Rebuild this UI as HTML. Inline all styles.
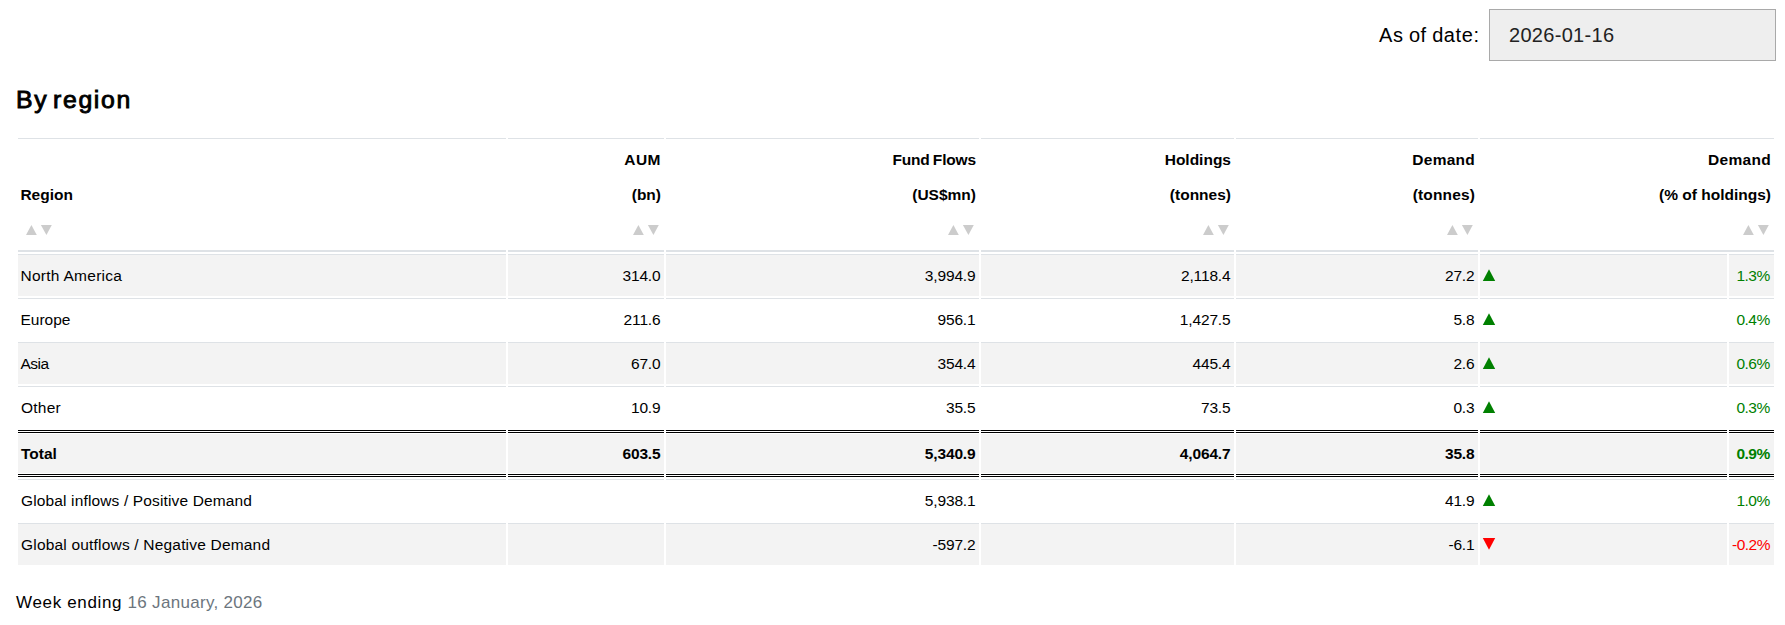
<!DOCTYPE html>
<html lang="en">
<head>
<meta charset="utf-8">
<title>By region</title>
<style>
*{box-sizing:border-box}
html,body{margin:0;padding:0;background:#fff}
body{width:1785px;height:625px;position:relative;overflow:hidden;font-family:"Liberation Sans","DejaVu Sans",sans-serif;color:#000;font-size:15px}
.lbl{position:absolute;left:1379px;top:9px;height:52px;line-height:52px;font-size:20px;white-space:nowrap;letter-spacing:.6px;word-spacing:-.8px}
.inp{position:absolute;left:1489px;top:9px;width:287px;height:52px;border:1px solid #a9a9a9;background:#eee;font-size:20px;line-height:50px;padding-left:19px;color:#222;letter-spacing:.3px}
h4{position:absolute;left:16px;top:85px;margin:0;font-size:24.8px;line-height:30px;font-weight:normal;-webkit-text-stroke:.9px #000;letter-spacing:1.7px;word-spacing:-4px;white-space:nowrap}
table{position:absolute;left:16px;top:136px;width:1760px;border-collapse:separate;border-spacing:2px;table-layout:fixed}
th,td{font-size:15.5px;padding:0 3px;text-align:right;white-space:nowrap;overflow:visible}
th:first-child,td:first-child{text-align:left}
thead th{height:114px;border-top:1px solid #dee2e6;border-bottom:2px solid #dee2e6;font-weight:bold;vertical-align:bottom;padding-bottom:3px}
thead th div{height:35px;line-height:35px}
thead th svg{display:inline-block;vertical-align:top;margin:13px 2px 0 5px}
thead th:first-child svg{margin-left:5.8px}
tbody td{height:42px;border-top:1px solid #dee2e6;line-height:22px;vertical-align:top;padding-top:10px}
tbody tr.s td{background:#f3f3f3}
tbody tr.tot td{height:47px;border-top:3px double #000;border-bottom:3px double #000;font-weight:bold;background:#f3f3f3;background-clip:padding-box;box-shadow:inset 0 1px 0 #fff,inset 0 -1px 0 #fff;padding-top:10px}
tbody td.a{text-align:left;padding:0}
td.a svg{display:block;margin:14px 0 0 2px}
tbody td{letter-spacing:-.15px;padding-right:3.5px}
tbody td:first-child{letter-spacing:0}
tbody td:last-child{letter-spacing:-.5px;padding-right:4.3px}
.g{color:#008000}.r{color:#f00}
.wk{position:absolute;left:16px;top:589.5px;font-size:17px;line-height:26px;white-space:nowrap;letter-spacing:.66px}
.wk span{color:#6c757d;letter-spacing:.3px}
</style>
</head>
<body>
<div class="lbl">As of date:</div>
<div class="inp">2026-01-16</div>
<h4>By region</h4>
<table>
<colgroup><col style="width:488px"><col style="width:156px"><col style="width:313px"><col style="width:253px"><col style="width:242px"><col style="width:247px"><col style="width:45px"></colgroup>
<thead>
<tr>
<th style="padding-left:2.4px"><div>Region</div><div><svg width="26" height="10" viewBox="0 0 26 10"><polygon points="0,10 5.4,0 10.8,10" fill="#ccc"/><polygon points="14.9,0 25.8,0 20.4,10" fill="#ccc"/></svg></div></th>
<th><div style="letter-spacing:.5px">AUM</div><div>(bn)</div><div><svg width="26" height="10" viewBox="0 0 26 10"><polygon points="0,10 5.4,0 10.8,10" fill="#ccc"/><polygon points="14.9,0 25.8,0 20.4,10" fill="#ccc"/></svg></div></th>
<th><div style="word-spacing:-1px;letter-spacing:-.15px">Fund Flows</div><div>(US$mn)</div><div><svg width="26" height="10" viewBox="0 0 26 10"><polygon points="0,10 5.4,0 10.8,10" fill="#ccc"/><polygon points="14.9,0 25.8,0 20.4,10" fill="#ccc"/></svg></div></th>
<th><div>Holdings</div><div>(tonnes)</div><div><svg width="26" height="10" viewBox="0 0 26 10"><polygon points="0,10 5.4,0 10.8,10" fill="#ccc"/><polygon points="14.9,0 25.8,0 20.4,10" fill="#ccc"/></svg></div></th>
<th><div style="letter-spacing:.25px">Demand</div><div style="letter-spacing:.15px">(tonnes)</div><div><svg width="26" height="10" viewBox="0 0 26 10"><polygon points="0,10 5.4,0 10.8,10" fill="#ccc"/><polygon points="14.9,0 25.8,0 20.4,10" fill="#ccc"/></svg></div></th>
<th colspan="2"><div style="letter-spacing:.3px">Demand</div><div>(% of holdings)</div><div><svg width="26" height="10" viewBox="0 0 26 10"><polygon points="0,10 5.4,0 10.8,10" fill="#ccc"/><polygon points="14.9,0 25.8,0 20.4,10" fill="#ccc"/></svg></div></th>
</tr>
</thead>
<tbody>
<tr class="s"><td style="letter-spacing:.27px;padding-left:2.5px">North America</td><td>314.0</td><td>3,994.9</td><td>2,118.4</td><td>27.2</td><td class="a"><svg width="14" height="12" viewBox="0 0 14 12"><polygon points="0.8,12 7,0.2 13.2,12" fill="#008000"/></svg></td><td class="g">1.3%</td></tr>
<tr><td style="padding-left:2.5px">Europe</td><td>211.6</td><td>956.1</td><td>1,427.5</td><td>5.8</td><td class="a"><svg width="14" height="12" viewBox="0 0 14 12"><polygon points="0.8,12 7,0.2 13.2,12" fill="#008000"/></svg></td><td class="g">0.4%</td></tr>
<tr class="s"><td style="letter-spacing:-.5px;padding-left:2.5px">Asia</td><td>67.0</td><td>354.4</td><td>445.4</td><td>2.6</td><td class="a"><svg width="14" height="12" viewBox="0 0 14 12"><polygon points="0.8,12 7,0.2 13.2,12" fill="#008000"/></svg></td><td class="g">0.6%</td></tr>
<tr><td style="letter-spacing:.24px">Other</td><td>10.9</td><td>35.5</td><td>73.5</td><td>0.3</td><td class="a"><svg width="14" height="12" viewBox="0 0 14 12"><polygon points="0.8,12 7,0.2 13.2,12" fill="#008000"/></svg></td><td class="g">0.3%</td></tr>
<tr class="tot"><td>Total</td><td>603.5</td><td>5,340.9</td><td>4,064.7</td><td>35.8</td><td class="a"></td><td class="g">0.9%</td></tr>
<tr><td style="letter-spacing:.14px">Global inflows / Positive Demand</td><td></td><td>5,938.1</td><td></td><td>41.9</td><td class="a"><svg width="14" height="12" viewBox="0 0 14 12"><polygon points="0.8,12 7,0.2 13.2,12" fill="#008000"/></svg></td><td class="g">1.0%</td></tr>
<tr class="s"><td style="letter-spacing:.19px">Global outflows / Negative Demand</td><td></td><td>-597.2</td><td></td><td>-6.1</td><td class="a"><svg width="14" height="12" viewBox="0 0 14 12"><polygon points="0.8,0 13.2,0 7,11.8" fill="#f00"/></svg></td><td class="r">-0.2%</td></tr>
</tbody>
</table>
<div class="wk">Week ending <span>16 January, 2026</span></div>
</body>
</html>
